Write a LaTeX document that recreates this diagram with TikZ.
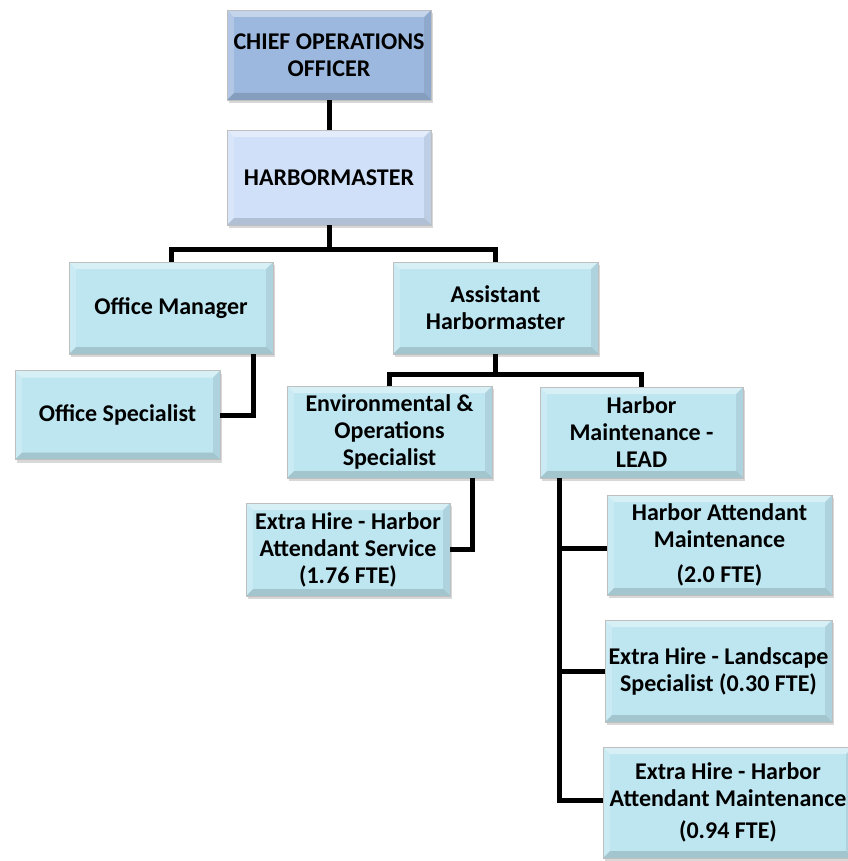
\documentclass[tikz,border=0pt]{standalone}
\usepackage{fontspec}
\setmainfont{Carlito}
\usetikzlibrary{shadows}
\definecolor{cooC}{HTML}{9CB8DE}
\definecolor{hmC}{HTML}{CFE0F8}
\definecolor{boxC}{HTML}{BDE6F1}
\tikzset{
  bevel/.style={path picture={
    \path (path picture bounding box.north west) coordinate (pNW)
          (path picture bounding box.north east) coordinate (pNE)
          (path picture bounding box.south east) coordinate (pSE)
          (path picture bounding box.south west) coordinate (pSW);
    \path ([xshift=7pt,yshift=-7pt]pNW) coordinate (iNW)
          ([xshift=-7pt,yshift=-7pt]pNE) coordinate (iNE)
          ([xshift=-7pt,yshift=7pt]pSE) coordinate (iSE)
          ([xshift=7pt,yshift=7pt]pSW) coordinate (iSW);
    \fill[white,opacity=0.40] (pNW) -- (pNE) -- (iNE) -- (iNW) -- cycle;
    \fill[white,opacity=0.22] (pNW) -- (iNW) -- (iSW) -- (pSW) -- cycle;
    \fill[black,opacity=0.14] (pSW) -- (iSW) -- (iSE) -- (pSE) -- cycle;
    \fill[black,opacity=0.08] (pNE) -- (iNE) -- (iSE) -- (pSE) -- cycle;
  }},
  orgbox/.style={bevel, fill=boxC, draw=black!25, line width=0.4pt, align=center,
    font=\fontsize{24}{27}\selectfont\bfseries, inner sep=0pt,
    drop shadow={shadow xshift=2pt, shadow yshift=-3pt, opacity=0.3}},
  conn/.style={line width=5pt, line join=miter, draw=black}
}
\begin{document}
\begin{tikzpicture}[x=1pt,y=-1pt]
\useasboundingbox[fill=white] (0,0) rectangle (847,861);
\node[orgbox, fill=cooC, minimum width=204pt, minimum height=90pt] (coo) at (329,55) {CHIEF OPERATIONS\\OFFICER};
\node[orgbox, fill=hmC, minimum width=204pt, minimum height=95pt] (hm) at (329,177.5) {HARBORMASTER};
\node[orgbox, minimum width=204pt, minimum height=92pt] (om) at (171,308) {Office Manager};
\node[orgbox, minimum width=205pt, minimum height=92pt] (ah) at (495.5,308) {Assistant\\Harbormaster};
\node[orgbox, minimum width=205pt, minimum height=89pt] (os) at (117.5,415) {Office Specialist};
\node[orgbox, minimum width=205pt, minimum height=92pt] (env) at (389.5,432) {Environmental \&\\Operations\\Specialist};
\node[orgbox, minimum width=203pt, minimum height=91pt] (hml) at (641.5,432.5) {Harbor\\Maintenance -\\LEAD};
\node[orgbox, minimum width=204pt, minimum height=93pt] (ehs) at (348,549.5) {Extra Hire - Harbor\\Attendant Service\\(1.76 FTE)};
\node[orgbox, minimum width=225pt, minimum height=100pt] (ham) at (719.5,545) {Harbor Attendant\\Maintenance\\[8pt](2.0 FTE)};
\node[orgbox, minimum width=227pt, minimum height=102pt] (ehl) at (718.5,671) {Extra Hire - Landscape\\Specialist (0.30 FTE)};
\node[orgbox, minimum width=250pt, minimum height=111pt] (eham) at (728,802.5) {Extra Hire - Harbor\\Attendant Maintenance\\[5pt](0.94 FTE)};

\coordinate (j1) at (329,249);
\coordinate (j2) at (495.5,374);
\coordinate (sp) at (560,0);

\draw[conn] (coo.south) -- (hm.north);
\draw[conn] (hm.south) -- (j1);
\draw[conn] (om.north) |- (j1) -| (ah.north);
\draw[conn] ([xshift=-20pt]om.south east) |- (os.east);
\draw[conn] (ah.south) -- (j2);
\draw[conn] (env.north) |- (j2) -| (hml.north);
\draw[conn] ([xshift=-20pt]env.south east) |- (ehs.east);
\draw[conn] ([xshift=20pt]hml.south west) |- ([yshift=2pt]eham.west);
\draw[conn] ([yshift=-3pt]ham.west) -- ([yshift=-3pt]ham.west -| sp);
\draw[conn] (ehl.west) -- (ehl.west -| sp);
\end{tikzpicture}
\end{document}
